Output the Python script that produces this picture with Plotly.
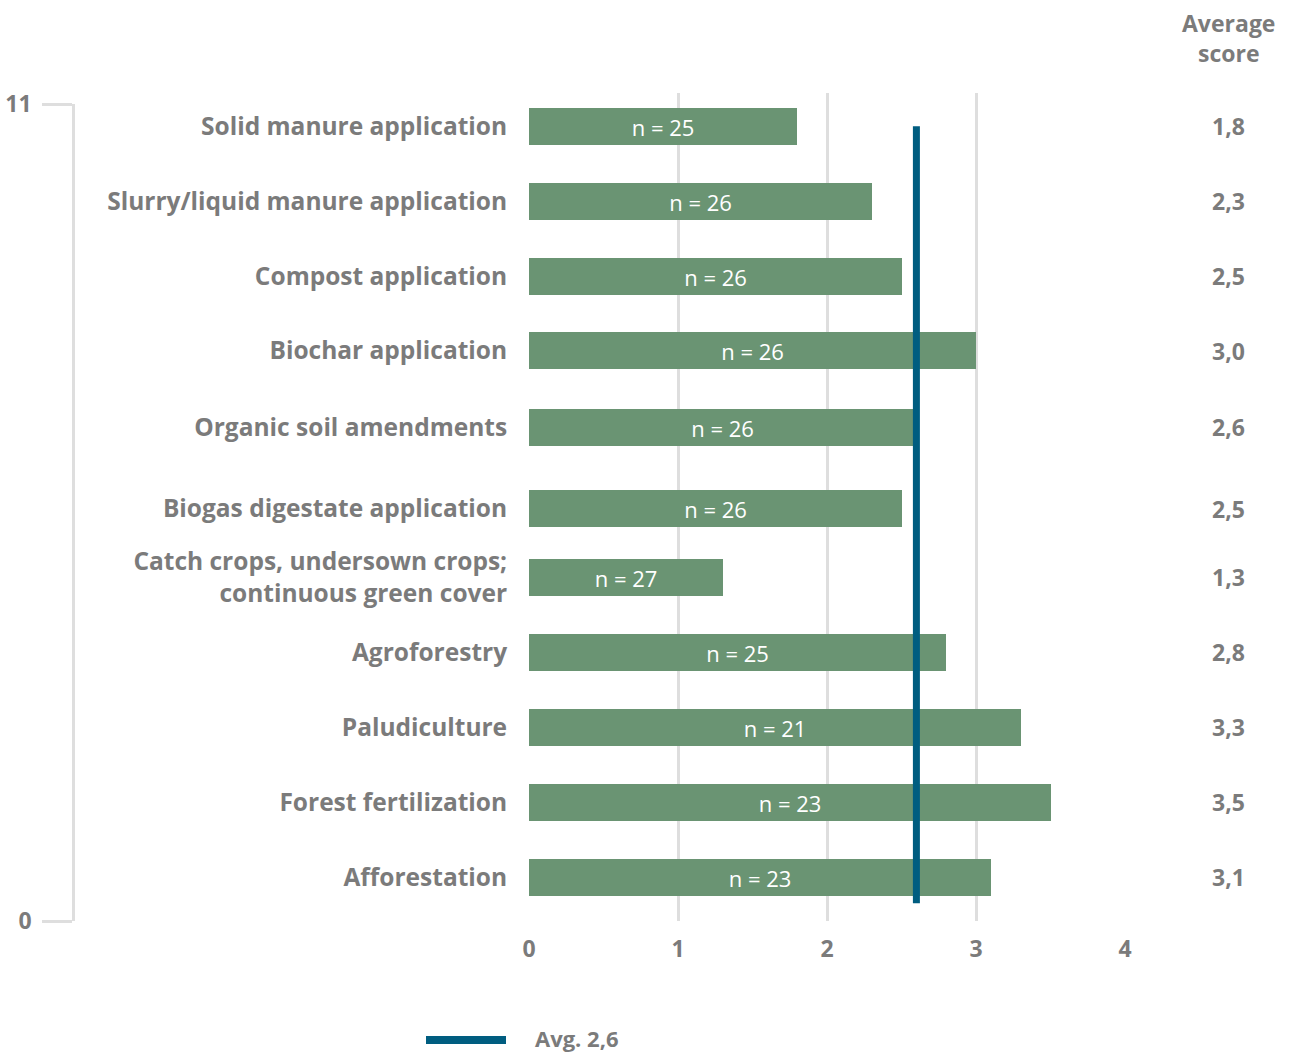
import plotly.graph_objects as go

# Measures and their survey results
measures = [
    "Solid manure application",
    "Slurry/liquid manure application",
    "Compost application",
    "Biochar application",
    "Organic soil amendments",
    "Biogas digestate application",
    "Catch crops, undersown crops;<br>continuous green cover",
    "Agroforestry",
    "Paludiculture",
    "Forest fertilization",
    "Afforestation",
]
avg_scores = [1.8, 2.3, 2.5, 3.0, 2.6, 2.5, 1.3, 2.8, 3.3, 3.5, 3.1]
n_responses = [25, 26, 26, 26, 26, 26, 27, 25, 21, 23, 23]
overall_avg = 2.6

# Vertical placement of each row on the 0-11 scale
row_pos = [10.7, 9.69, 8.68, 7.68, 6.65, 5.55, 4.63, 3.62, 2.61, 1.6, 0.59]
left_ticks = [0, 11]
x_ticks = [0, 1, 2, 3, 4]

W, H = 1293, 1055
GREEN = "#6a9473"
BLUE = "#005d80"
GREY_TXT = "#7b7b7b"
GRID = "#dedede"
FONT = "Open Sans"
TXT = dict(family=FONT, size=23, color=GREY_TXT, weight=700)
LBL = dict(family=FONT, size=24.5, color=GREY_TXT, weight=700)


def px_x(p):
    return p / W


def px_y(p):
    return 1 - p / H


def fmt(v):
    return f"{v:.1f}".replace(".", ",")


fig = go.Figure()

fig.add_trace(go.Bar(
    x=avg_scores,
    y=row_pos,
    orientation="h",
    width=0.5,
    marker=dict(color=GREEN, line=dict(width=0)),
    text=[f"n = {n}" for n in n_responses],
    textposition="inside",
    insidetextanchor="middle",
    textangle=0,
    constraintext="none",
    textfont=dict(family="Open Sans", size=22, color="white"),
    showlegend=False,
    hoverinfo="skip",
))

# Overall average line
fig.add_trace(go.Scatter(
    x=[overall_avg, overall_avg],
    y=[row_pos[-1] - 0.35, row_pos[0]],
    mode="lines",
    line=dict(color=BLUE, width=7),
    showlegend=False,
    hoverinfo="skip",
))

# Left 0-11 scale in its own small subplot
fig.add_trace(go.Scatter(
    x=[None], y=[None], xaxis="x2", yaxis="y2",
    showlegend=False, hoverinfo="skip",
))

fig.update_layout(
    width=W, height=H,
    margin=dict(l=0, r=0, t=0, b=0, autoexpand=False),
    paper_bgcolor="white",
    plot_bgcolor="rgba(0,0,0,0)",
    showlegend=False,
    bargap=0,
    xaxis=dict(
        domain=[px_x(529), px_x(1125)],
        range=[0, 4],
        tickvals=x_ticks,
        ticktext=[str(t) for t in x_ticks],
        showgrid=True, gridcolor=GRID, gridwidth=2.5,
        zeroline=False, showline=False,
        ticks="outside", ticklen=7, tickcolor="rgba(0,0,0,0)",
        tickfont=TXT,
        automargin=False,
        fixedrange=True,
    ),
    yaxis=dict(
        domain=[px_y(921), px_y(93)],
        range=[0, 11 * 828 / 817],
        tickvals=row_pos,
        ticktext=measures,
        showgrid=False, zeroline=False, showline=False,
        ticks="outside", ticklen=16, tickcolor="rgba(0,0,0,0)",
        tickfont=LBL,
        automargin=False,
        fixedrange=True,
    ),
    xaxis2=dict(
        domain=[px_x(75), px_x(80)],
        anchor="y2",
        visible=False,
        automargin=False,
        fixedrange=True,
    ),
    yaxis2=dict(
        domain=[px_y(921), px_y(104)],
        range=[0, 11],
        anchor="x2",
        side="left",
        tickvals=left_ticks,
        ticktext=[str(t) for t in left_ticks],
        showgrid=False, zeroline=False,
        showline=True, linecolor=GRID, linewidth=2.5,
        ticks="outside", ticklen=30, tickcolor=GRID, tickwidth=2.5,
        ticklabelstandoff=6,
        tickfont=TXT,
        automargin=False,
        fixedrange=True,
    ),
)

# Right-hand column with average scores
annotations = [dict(
    x=px_x(1228), y=px_y(38), xref="paper", yref="paper",
    text="Average<br>score", showarrow=False,
    xanchor="center", yanchor="middle", align="center",
    font=TXT,
)]
for pos, v in zip(row_pos, avg_scores):
    annotations.append(dict(
        x=px_x(1228), y=pos, xref="paper", yref="y",
        text=fmt(v), showarrow=False,
        xanchor="center", yanchor="middle",
        font=TXT,
    ))

# Legend entry for the average line
annotations.append(dict(
    x=px_x(533), y=px_y(1038), xref="paper", yref="paper",
    text=f"Avg. {fmt(overall_avg)}", showarrow=False,
    xanchor="left", yanchor="middle",
    font=dict(family=FONT, size=22, color=GREY_TXT, weight=700),
))
fig.update_layout(annotations=annotations)
fig.add_shape(
    type="line", xref="paper", yref="paper",
    x0=px_x(426), x1=px_x(506), y0=px_y(1040), y1=px_y(1040),
    line=dict(color=BLUE, width=8),
)

fig.write_html("out.html")
